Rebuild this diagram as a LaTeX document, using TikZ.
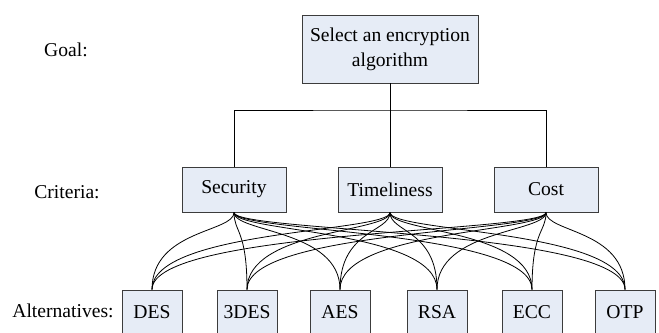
\documentclass[tikz,border=0pt]{standalone}
\usepackage{fontspec}
\setmainfont{Liberation Serif}
\usetikzlibrary{positioning}
\definecolor{BoxFill}{HTML}{E6ECF6}
\definecolor{BoxLine}{HTML}{3C3C3C}

\begin{document}
\begin{tikzpicture}[x=0.75pt, y=-0.75pt,
  every node/.style={font=\fontsize{14.7}{18.75}\selectfont},
  box/.style={draw=BoxLine, fill=BoxFill, line width=0.7pt, inner sep=0pt, align=center},
  crit/.style={box, minimum width=78pt, minimum height=33.75pt},
  alt/.style={box, minimum width=45pt, minimum height=33pt},
  link/.style={black, line width=0.6pt}]
  \useasboundingbox (0,0) rectangle (659,332);
  % level labels
  \node (goallbl) at (66,50) {Goal:};
  \node (critlbl) at (67,192) {Criteria:};
  \node (altlbl) at (63,311) {Alternatives:};
  % goal
  \node[box, minimum width=132pt, minimum height=51pt] (goal) at (390,49) {Select an encryption\\algorithm};
  % criteria
  \node[crit] (sec) at (234,189.5) {Security};
  \node[crit] (tim) at (390,189.5) {Timeliness};
  \node[crit] (cost) at (546,189.5) {Cost};
  % alternatives
  \node[alt] (des) at (152,312) {DES};
  \node[alt] (tdes) at (247,312) {3DES};
  \node[alt] (aes) at (340,312) {AES};
  \node[alt] (rsa) at (437,312) {RSA};
  \node[alt] (ecc) at (532,312) {ECC};
  \node[alt] (otp) at (625,312) {OTP};
  % tree to the criteria
  \coordinate (split) at (390,110);
  \draw[link] (goal.south) -- (split);
  \draw[link] (sec.north) |- (split) -| (cost.north);
  \draw[link] (split) -- (tim.north);
  % criteria to alternatives
  \draw[link] (sec.south) .. controls +(0,20) and +(0,-60) .. (des.north);
  \draw[link] (sec.south) .. controls +(0,20) and +(0,-60) .. (tdes.north);
  \draw[link] (sec.south) .. controls +(0,20) and +(0,-60) .. (aes.north);
  \draw[link] (sec.south) .. controls +(0,20) and +(0,-60) .. (rsa.north);
  \draw[link] (sec.south) .. controls +(0,20) and +(0,-60) .. (ecc.north);
  \draw[link] (sec.south) .. controls +(0,20) and +(0,-60) .. (otp.north);
  \draw[link] (tim.south) .. controls +(0,20) and +(0,-60) .. (des.north);
  \draw[link] (tim.south) .. controls +(0,20) and +(0,-60) .. (tdes.north);
  \draw[link] (tim.south) .. controls +(0,20) and +(0,-60) .. (aes.north);
  \draw[link] (tim.south) .. controls +(0,20) and +(0,-60) .. (rsa.north);
  \draw[link] (tim.south) .. controls +(0,20) and +(0,-60) .. (ecc.north);
  \draw[link] (tim.south) .. controls +(0,20) and +(0,-60) .. (otp.north);
  \draw[link] (cost.south) .. controls +(0,20) and +(0,-60) .. (des.north);
  \draw[link] (cost.south) .. controls +(0,20) and +(0,-60) .. (tdes.north);
  \draw[link] (cost.south) .. controls +(0,20) and +(0,-60) .. (aes.north);
  \draw[link] (cost.south) .. controls +(0,20) and +(0,-60) .. (rsa.north);
  \draw[link] (cost.south) .. controls +(0,20) and +(0,-60) .. (ecc.north);
  \draw[link] (cost.south) .. controls +(0,20) and +(0,-60) .. (otp.north);
\end{tikzpicture}
\end{document}
